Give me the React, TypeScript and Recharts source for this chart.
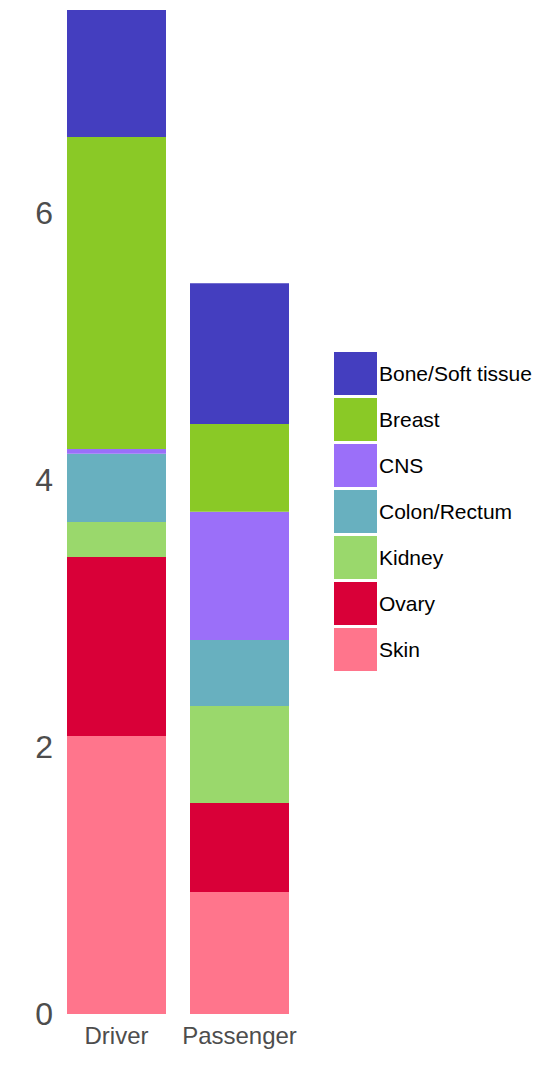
import { BarChart, Bar, XAxis, YAxis } from "recharts";

const categories = ["Driver", "Passenger"];
const tissues = ["Skin", "Ovary", "Kidney", "Colon/Rectum", "CNS", "Breast", "Bone/Soft tissue"];
const colors = ["#ff758c", "#d90038", "#9ad86c", "#68b0bf", "#9b6ff9", "#8ac926", "#443ebf"];
const driverValues = [2.082, 1.341, 0.262, 0.512, 0.035, 2.337, 0.952];
const passengerValues = [0.914, 0.667, 0.726, 0.494, 0.961, 0.657, 1.056];
const yTicks = [0, 2, 4, 6];

const data = categories.map((name, i) => {
  const vals = i === 0 ? driverValues : passengerValues;
  const row: Record<string, string | number> = { name };
  tissues.forEach((t, j) => {
    row[t] = vals[j];
  });
  return row;
});

const font = '"Liberation Sans", Arial, sans-serif';

function TissueLegend() {
  const items = tissues.map((t, i) => ({ name: t, color: colors[i] })).reverse();
  return (
    <div style={{ position: "absolute", left: 334, top: 352, fontFamily: font }}>
      {items.map((item) => (
        <div key={item.name} style={{ display: "flex", alignItems: "center", height: 43, marginBottom: 3 }}>
          <div style={{ width: 43, height: 43, background: item.color }} />
          <span style={{ marginLeft: 2, fontSize: 21, color: "#000" }}>{item.name}</span>
        </div>
      ))}
    </div>
  );
}

export default function App() {
  return (
    <div style={{ position: "absolute", left: 0, top: 0, width: 549, height: 1072, background: "#fff" }}>
      <BarChart
        width={549}
        height={1072}
        data={data}
        margin={{ top: 10, right: 248, bottom: 0, left: 0 }}
        barSize={99}
      >
        <XAxis
          dataKey="name"
          axisLine={false}
          tickLine={false}
          tickSize={0}
          tickMargin={13}
          height={58}
          tick={{ fill: "#4d4d4d", fontSize: 24, fontFamily: font }}
        />
        <YAxis
          domain={[0, "dataMax"]}
          ticks={yTicks}
          axisLine={false}
          tickLine={false}
          tickSize={0}
          tickMargin={2}
          width={55}
          tick={{ fill: "#4d4d4d", fontSize: 32, fontFamily: font }}
        />
        {tissues.map((t, i) => (
          <Bar key={t} dataKey={t} stackId="a" fill={colors[i]} isAnimationActive={false} />
        ))}
      </BarChart>
      <TissueLegend />
    </div>
  );
}
